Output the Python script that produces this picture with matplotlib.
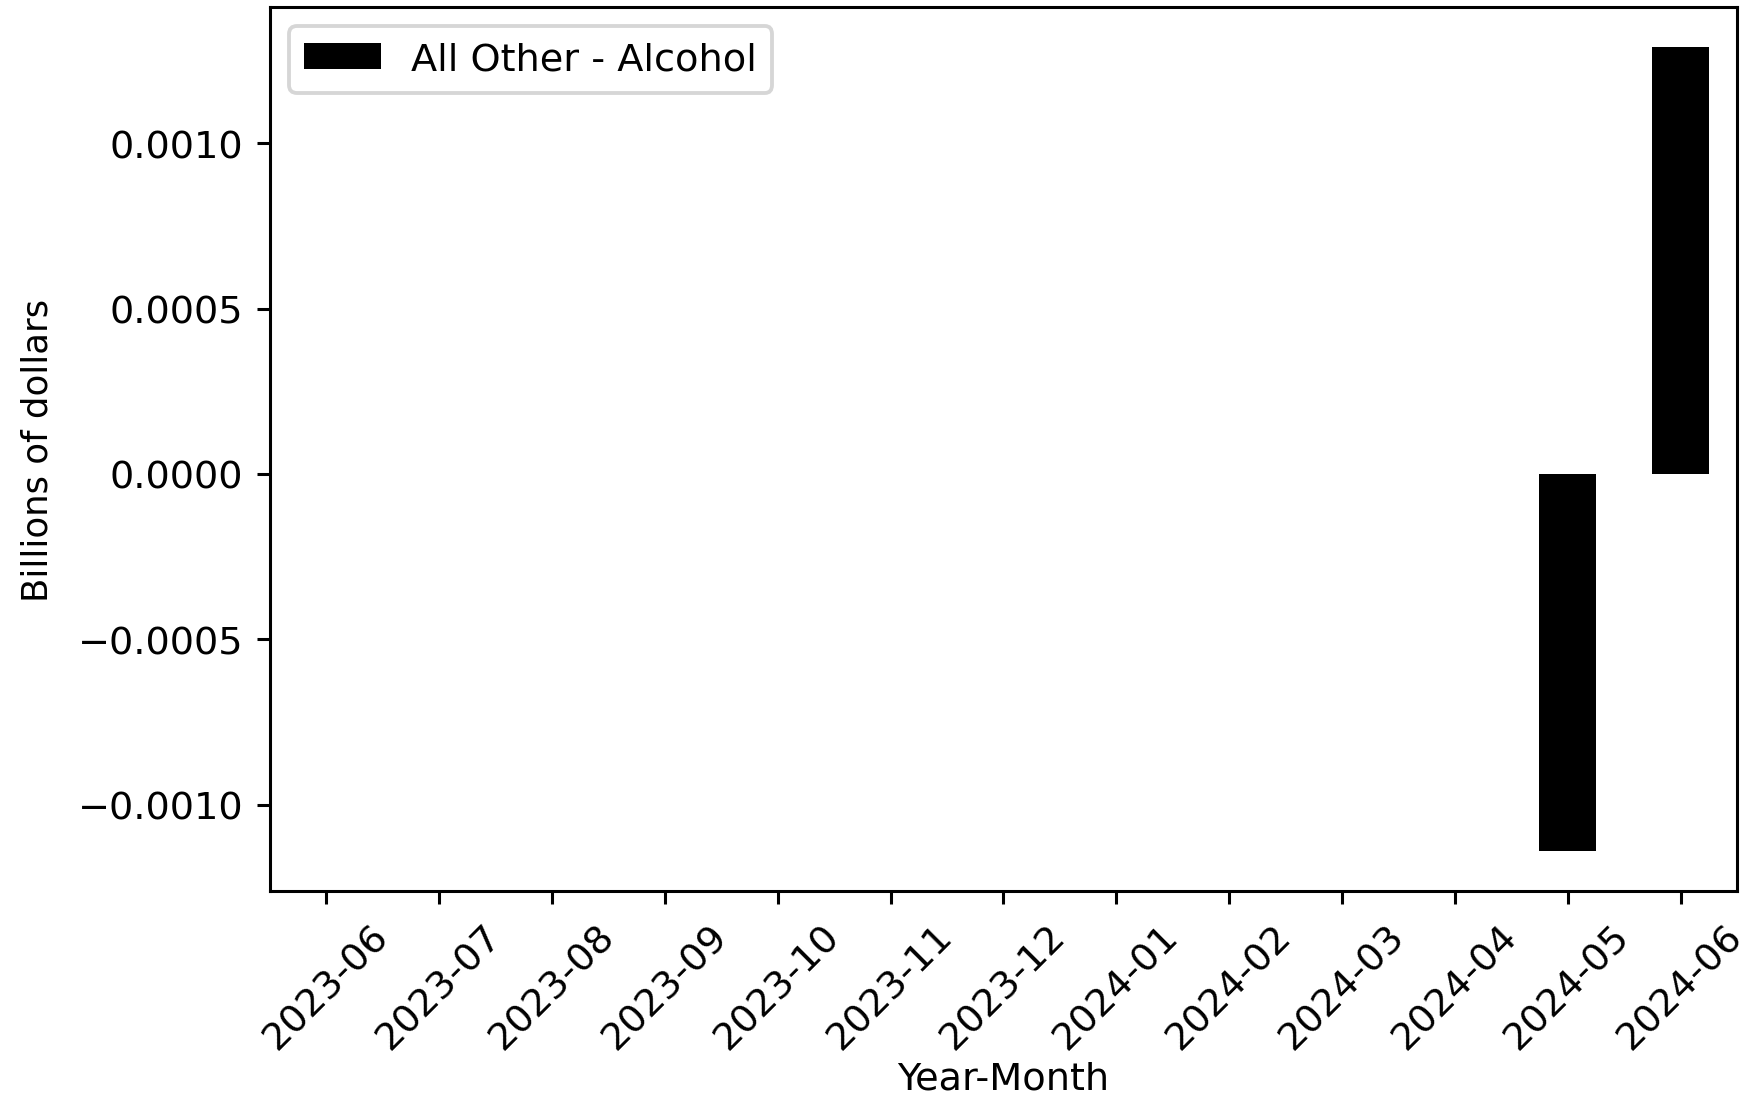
from matplotlib import pyplot as plt
import numpy as np

# Meses y valores (miles de millones de dolares)
meses = ['2023-06', '2023-07', '2023-08', '2023-09', '2023-10', '2023-11', '2023-12',
         '2024-01', '2024-02', '2024-03', '2024-04', '2024-05', '2024-06']
valores = [0, 0, 0, 0, 0, 0, 0, 0, 0, 0, 0, -0.00114, 0.00129]
etiqueta = 'All Other - Alcohol'

fig, ax = plt.subplots(figsize=(6.4, 3.985), dpi=275)
fig.subplots_adjust(left=0.1534, right=0.9869, top=0.9927, bottom=0.1861)

pos = np.arange(len(meses))
ax.bar(pos, valores, width=0.5, color='black', label=etiqueta)
ax.set_xlim(-0.5, len(meses) - 0.5)
ax.set_xticks(pos)
ax.set_xticklabels(meses, rotation=45)

plt.xlabel('Year-Month', labelpad=1)
plt.ylabel('Billions of dollars', fontsize=9.3, labelpad=6)
plt.legend(loc='upper left')

plt.savefig('out.png')
